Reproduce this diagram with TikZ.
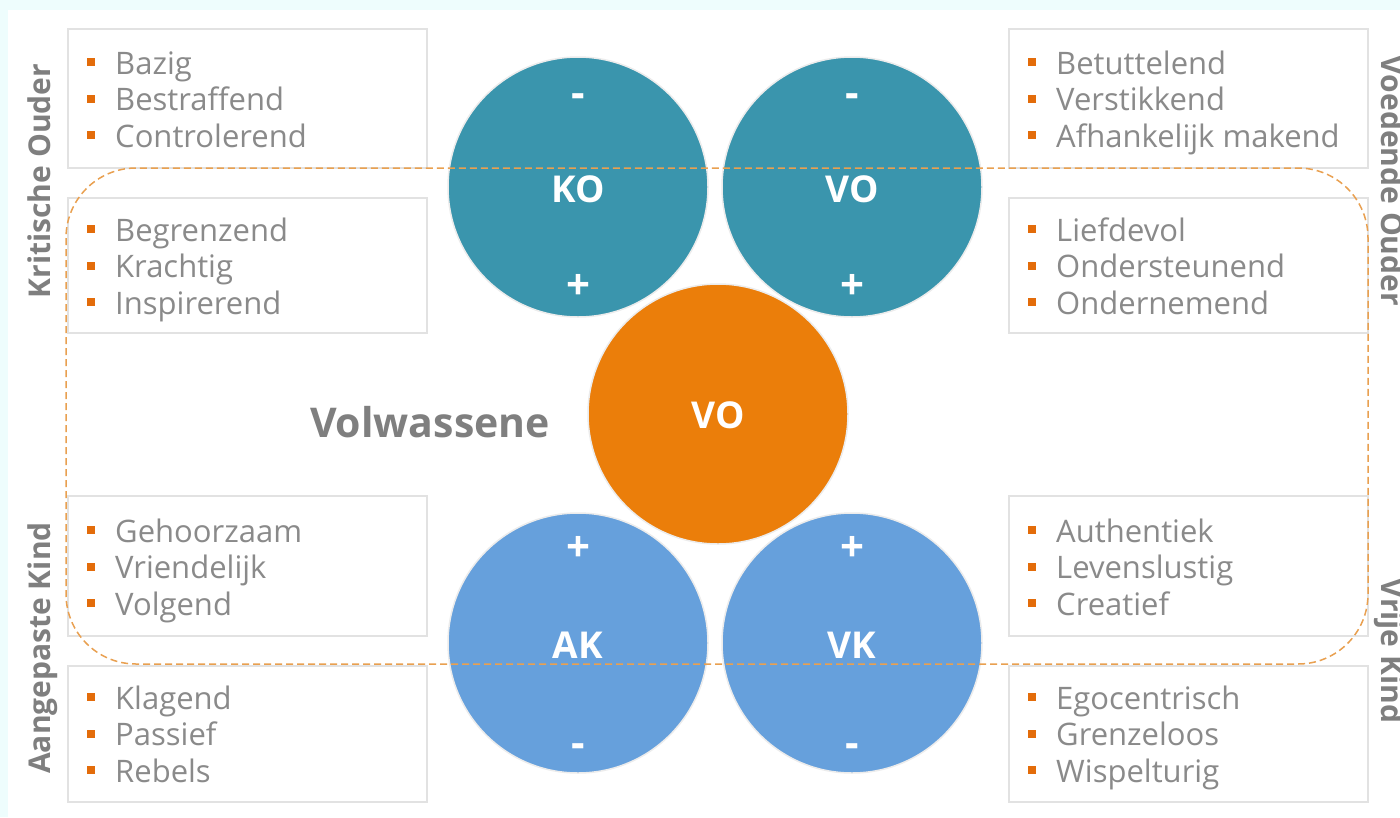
\documentclass[tikz,border=0pt]{standalone}
\usepackage{fontspec}
\setmainfont{Open Sans}
\definecolor{bgcyan}{HTML}{EEFDFD}
\definecolor{boxline}{HTML}{E2E2E2}
\definecolor{txtgray}{HTML}{8A8A8A}
\definecolor{labgray}{HTML}{7F7F7F}
\definecolor{bulor}{HTML}{E36C0A}
\definecolor{dashor}{HTML}{E9A050}
\definecolor{tealc}{HTML}{3A95AD}
\definecolor{bluec}{HTML}{66A0DC}
\definecolor{orangec}{HTML}{EB7E0A}
\tikzset{
  box/.style={draw=boxline, line width=1.2pt, fill=white, minimum width=359pt, inner sep=0pt},
  bul/.style={fill=bulor, minimum size=8pt, inner sep=0pt},
  itm/.style={text=txtgray, font=\fontsize{31}{37}\selectfont, inner sep=0pt},
  side/.style={text=labgray, font=\fontsize{30}{36}\selectfont\bfseries, inner sep=0pt},
  bigc/.style={circle, minimum size=260pt, inner sep=0pt, draw=white!85!gray, line width=1.5pt},
  clab/.style={text=white, font=\fontsize{37}{40}\selectfont\bfseries, inner sep=0pt},
  sign/.style={text=white, font=\fontsize{42}{44}\selectfont\bfseries, inner sep=0pt},
}
\newcommand\blist[4]{%
  \foreach \t [count=\i] in {#4} {
    \node[bul] (#3b\i) at (#1, #2+36.7*\i-36.7-12) {};
    \node[itm, anchor=base west] (#3t\i) at (#1+24, #2+36.7*\i-36.7) {\t};
  }}
\begin{document}
\begin{tikzpicture}[x=1pt,y=-1pt]
\useasboundingbox (0,0) rectangle (1400,817);
\clip (0,0) rectangle (1400,817);
\fill[bgcyan] (0,0) rectangle (1400,817);
\fill[white] (8,10) rectangle (1400,817);
% boxes
\node[box, minimum height=139pt] (bl1) at (247.5,98.5) {};
\node[box, minimum height=135pt] (bl2) at (247.5,265.5) {};
\node[box, minimum height=140pt] (bl3) at (247.5,566) {};
\node[box, minimum height=136pt] (bl4) at (247.5,734) {};
\node[box, minimum height=139pt] (br1) at (1188.5,98.5) {};
\node[box, minimum height=135pt] (br2) at (1188.5,265.5) {};
\node[box, minimum height=140pt] (br3) at (1188.5,566) {};
\node[box, minimum height=136pt] (br4) at (1188.5,734) {};
% lists
\blist{91}{74}{la}{Bazig,Bestraffend,Controlerend}
\blist{91}{241}{lb}{Begrenzend,Krachtig,Inspirerend}
\blist{91}{542}{lc}{Gehoorzaam,Vriendelijk,Volgend}
\blist{91}{709}{ld}{Klagend,Passief,Rebels}
\blist{1032}{74}{ra}{Betuttelend,Verstikkend,Afhankelijk makend}
\blist{1032}{241}{rb}{Liefdevol,Ondersteunend,Ondernemend}
\blist{1032}{542}{rc}{Authentiek,Levenslustig,Creatief}
\blist{1032}{709}{rd}{Egocentrisch,Grenzeloos,Wispelturig}
% side labels
\node[side, rotate=90, anchor=base] (sko) at (50,181) {Kritische Ouder};
\node[side, rotate=90, anchor=base] (sak) at (50,648) {Aangepaste Kind};
\node[side, rotate=-90, anchor=base] (svo) at (1381,181) {Voedende Ouder};
\node[side, rotate=-90, anchor=base] (svk) at (1381,651) {Vrije Kind};
\node[text=labgray, font=\fontsize{41}{44}\selectfont\bfseries, inner sep=0pt] (vol) at (430,422) {Volwassene};
% circles
\node[bigc, fill=tealc] (ko) at (578,187) {};
\node[bigc, fill=tealc] (vo) at (852,187) {};
\node[bigc, fill=orangec] (vw) at (718,414) {};
\node[bigc, fill=bluec] (ak) at (578,643) {};
\node[bigc, fill=bluec] (vk) at (852,643) {};
\node[clab] (kol) at (578,189) {KO};
\node[clab] (vol2) at (852,189) {VO};
\node[clab] (vwl) at (718,415) {VO};
\node[clab] (akl) at (578,645) {AK};
\node[clab] (vkl) at (852,645) {VK};
\node[sign] (kom) at (578,101) {-};
\node[sign] (kop) at (578,287) {+};
\node[sign] (vom) at (852,101) {-};
\node[sign] (vop) at (852,287) {+};
\node[sign] (akp) at (578,549) {+};
\node[sign] (akm) at (578,751) {-};
\node[sign] (vkp) at (852,549) {+};
\node[sign] (vkm) at (852,751) {-};
% dashed rounded frame
\draw[dashor, line width=1.5pt, dash pattern=on 7pt off 4pt, rounded corners=70pt] (66,168) rectangle (1368,664);
\end{tikzpicture}
\end{document}
